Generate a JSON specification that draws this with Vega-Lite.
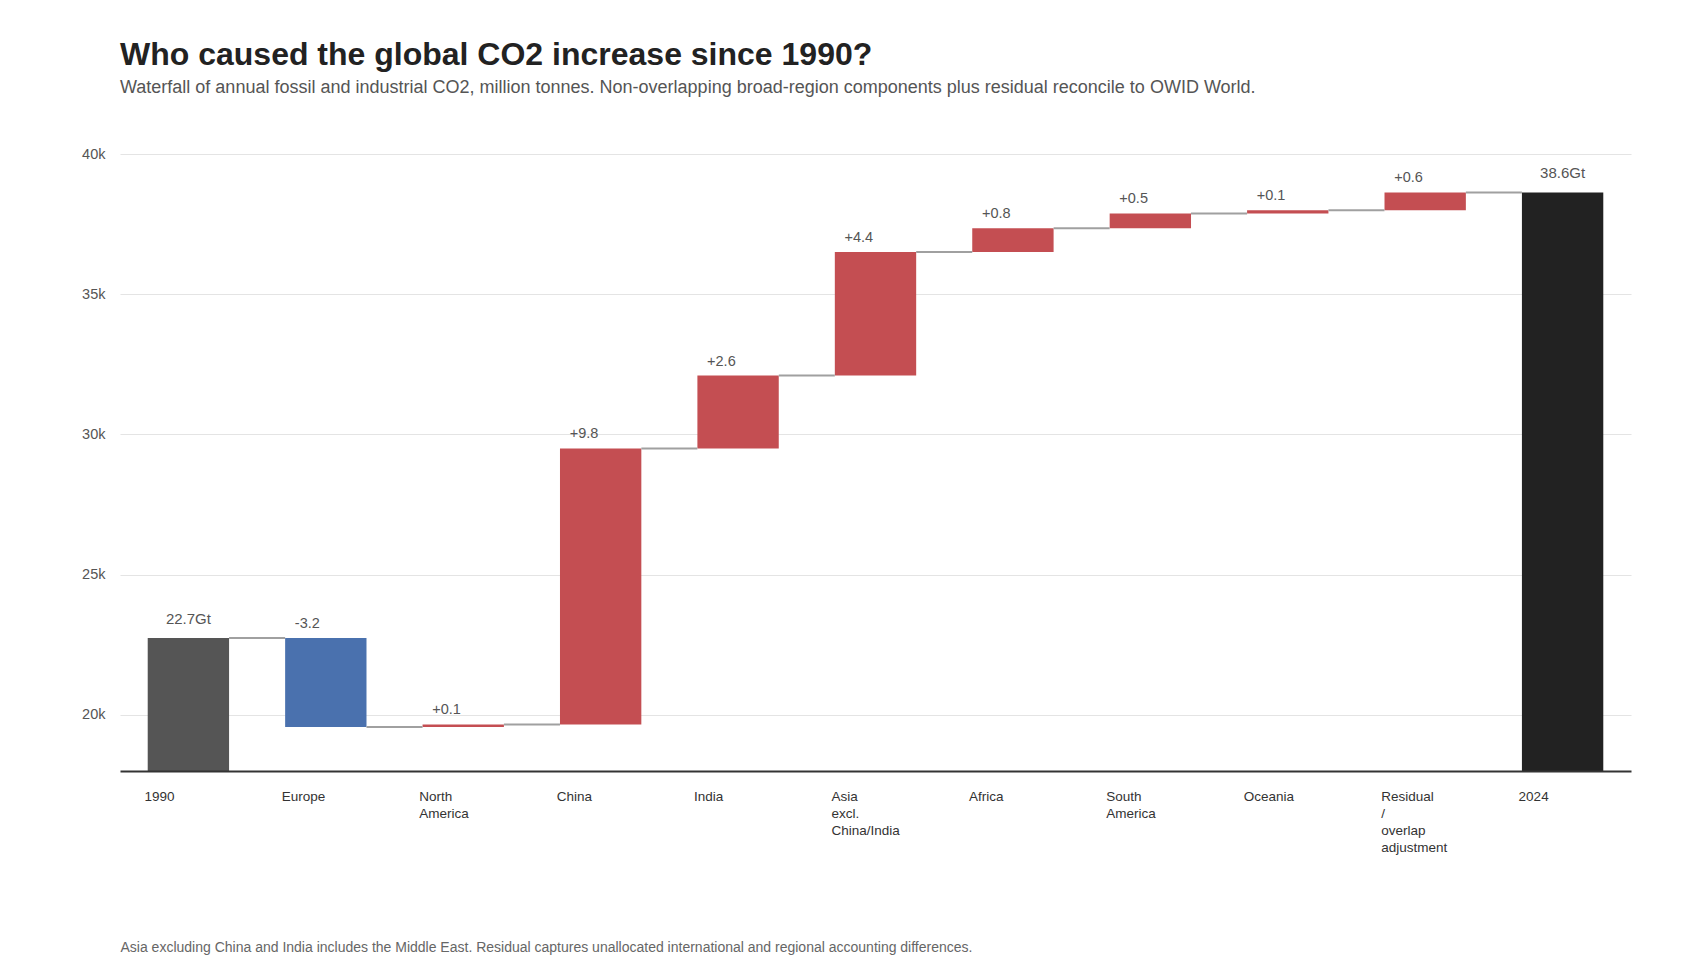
{
  "$schema": "https://vega.github.io/schema/vega-lite/v6.json",
  "autosize": {"type": "none"},
  "width": 1511,
  "height": 617,
  "padding": {"left": 120, "top": 154, "right": 69, "bottom": 209},
  "background": "white",
  "config": {
    "font": "Liberation Sans",
    "view": {"stroke": null}
  },
  "title": {
    "text": "Who caused the global CO2 increase since 1990?",
    "subtitle": "Waterfall of annual fossil and industrial CO2, million tonnes. Non-overlapping broad-region components plus residual reconcile to OWID World.",
    "anchor": "start",
    "frame": "group",
    "font": "Liberation Sans",
    "fontSize": 32,
    "fontWeight": "bold",
    "color": "#222222",
    "subtitleFont": "Liberation Sans",
    "subtitleFontSize": 18,
    "subtitleColor": "#555555",
    "subtitlePadding": 7,
    "offset": 48
  },
  "data": {
    "values": [
      {"cat": "1990", "low": 0, "high": 22740, "end": 22740, "label": "22.7Gt", "kind": "start", "next": "Europe"},
      {"cat": "Europe", "low": 19570, "high": 22740, "end": 19570, "label": "-3.2", "kind": "decrease", "next": "North America"},
      {"cat": "North America", "low": 19570, "high": 19660, "end": 19660, "label": "+0.1", "kind": "increase", "next": "China"},
      {"cat": "China", "low": 19660, "high": 29500, "end": 29500, "label": "+9.8", "kind": "increase", "next": "India"},
      {"cat": "India", "low": 29500, "high": 32100, "end": 32100, "label": "+2.6", "kind": "increase", "next": "Asia excl. China/India"},
      {"cat": "Asia excl. China/India", "low": 32100, "high": 36510, "end": 36510, "label": "+4.4", "kind": "increase", "next": "Africa"},
      {"cat": "Africa", "low": 36510, "high": 37350, "end": 37350, "label": "+0.8", "kind": "increase", "next": "South America"},
      {"cat": "South America", "low": 37350, "high": 37880, "end": 37880, "label": "+0.5", "kind": "increase", "next": "Oceania"},
      {"cat": "Oceania", "low": 37880, "high": 37990, "end": 37990, "label": "+0.1", "kind": "increase", "next": "Residual / overlap adjustment"},
      {"cat": "Residual / overlap adjustment", "low": 37990, "high": 38630, "end": 38630, "label": "+0.6", "kind": "increase", "next": "2024"},
      {"cat": "2024", "low": 0, "high": 38630, "end": 38630, "label": "38.6Gt", "kind": "end", "next": null}
    ]
  },
  "encoding": {
    "x": {
      "field": "cat",
      "type": "nominal",
      "scale": {
        "domain": ["1990", "Europe", "North America", "China", "India", "Asia excl. China/India", "Africa", "South America", "Oceania", "Residual / overlap adjustment", "2024"],
        "paddingInner": 0.408,
        "paddingOuter": 0.2017
      },
      "axis": {
        "title": "Asia excluding China and India includes the Middle East. Residual captures unallocated international and regional accounting differences.",
        "titleAnchor": "start",
        "titleAlign": "left",
        "titleBaseline": "alphabetic",
        "titleX": 0,
        "titleY": 180,
        "titleFont": "Liberation Sans",
        "titleFontSize": 14,
        "titleFontWeight": "normal",
        "titleColor": "#666666",
        "labelAngle": 0,
        "labelAlign": "left",
        "labelBaseline": "top",
        "labelOffset": -44,
        "labelPadding": 18,
        "labelFontSize": 13.5,
        "labelColor": "#333333",
        "labelLineHeight": 17,
        "labelLimit": 0,
        "labelOverlap": false,
        "labelExpr": "split(datum.label, ' ')",
        "ticks": false,
        "tickSize": 0,
        "domain": true,
        "domainColor": "#333333",
        "domainWidth": 2,
        "grid": false,
        "zindex": 1
      }
    }
  },
  "layer": [
    {
      "mark": {"type": "bar"},
      "encoding": {
        "y": {
          "field": "high",
          "type": "quantitative",
          "scale": {"domain": [18000, 40000], "zero": false, "nice": false, "clamp": true},
          "axis": {
            "title": null,
            "values": [20000, 25000, 30000, 35000, 40000],
            "labelExpr": "format(datum.value / 1000, 'd') + 'k'",
            "labelPadding": 15,
            "labelFontSize": 14.5,
            "labelColor": "#555555",
            "ticks": false,
            "domain": false,
            "grid": true,
            "gridColor": "#e4e4e4",
            "gridWidth": 1.2
          }
        },
        "y2": {"field": "low"},
        "color": {
          "field": "kind",
          "type": "nominal",
          "scale": {
            "domain": ["start", "decrease", "increase", "end"],
            "range": ["#555555", "#4a71ae", "#c44e52", "#222222"]
          },
          "legend": null
        }
      }
    },
    {
      "transform": [{"filter": "datum.next != null"}],
      "mark": {"type": "rule", "color": "#a0a0a0", "strokeWidth": 2},
      "encoding": {
        "x": {"field": "cat", "type": "nominal", "bandPosition": 1},
        "x2": {"field": "next", "bandPosition": 0},
        "y": {"field": "end", "type": "quantitative"}
      }
    },
    {
      "transform": [{"filter": "datum.kind == 'start' || datum.kind == 'end'"}],
      "mark": {"type": "text", "align": "center", "baseline": "alphabetic", "dy": -14, "fontSize": 15, "color": "#555555"},
      "encoding": {
        "y": {"field": "high", "type": "quantitative"},
        "text": {"field": "label"}
      }
    },
    {
      "transform": [{"filter": "datum.kind == 'increase' || datum.kind == 'decrease'"}],
      "mark": {"type": "text", "align": "left", "baseline": "alphabetic", "dx": -31, "dy": -10, "fontSize": 14.5, "color": "#555555"},
      "encoding": {
        "y": {"field": "high", "type": "quantitative"},
        "text": {"field": "label"}
      }
    }
  ]
}
